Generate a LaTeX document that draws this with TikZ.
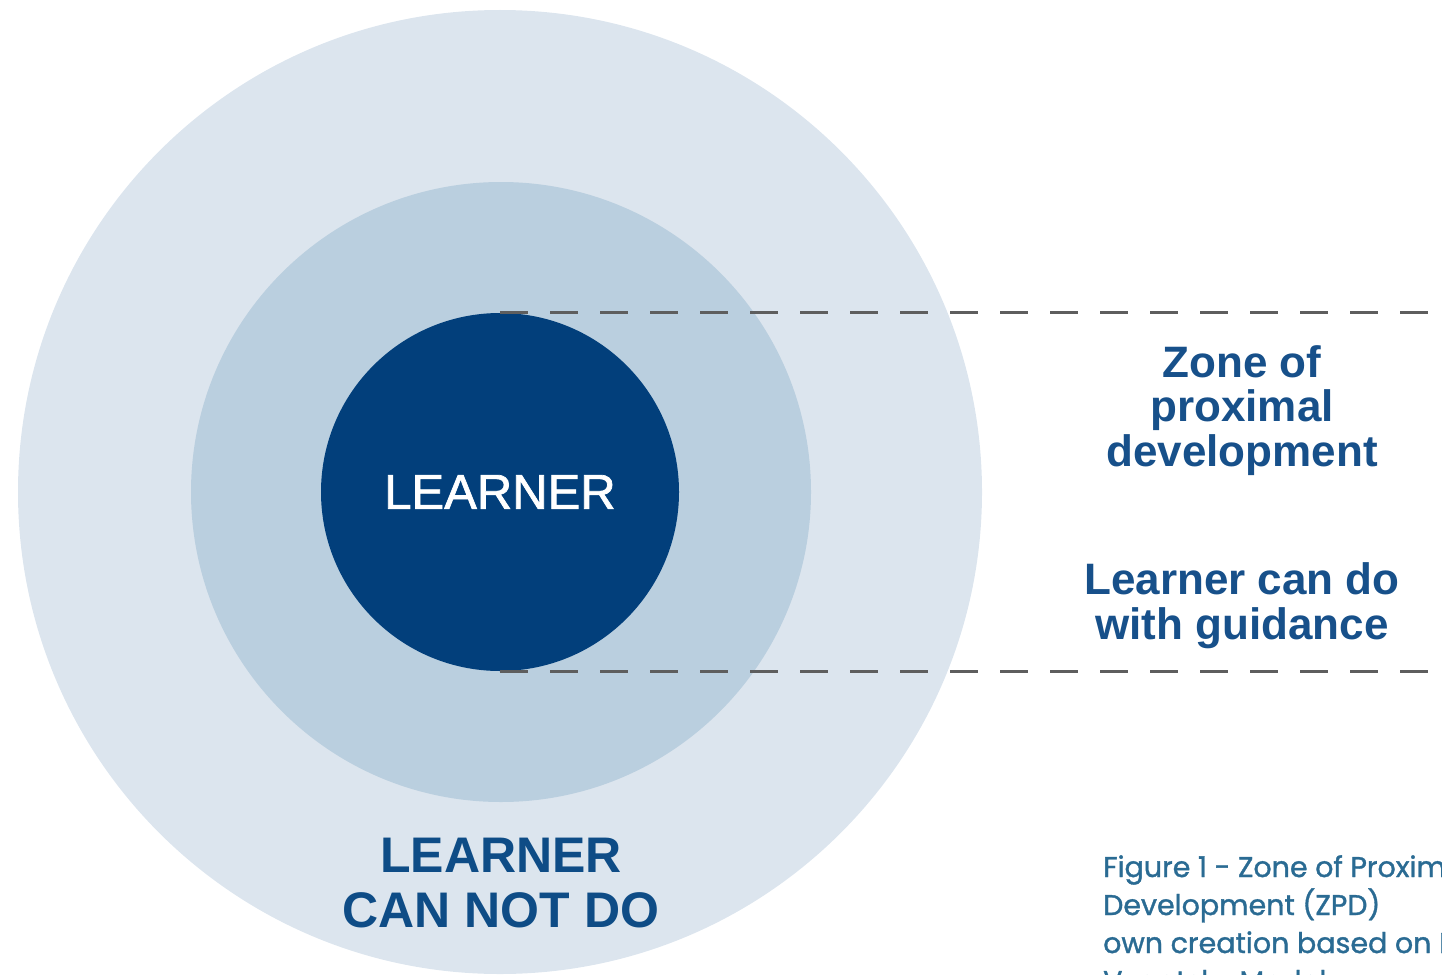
\documentclass[tikz,border=0pt]{standalone}
\usepackage{fontspec}
\setmainfont{Liberation Sans}
\newfontfamily\captionfont[FakeBold=1.2]{Poppins}
\newfontfamily\corefont[FakeBold=1.5]{Liberation Sans}
\definecolor{outerzone}{HTML}{DCE5EE}
\definecolor{middlezone}{HTML}{BACFDF}
\definecolor{corezone}{HTML}{023F7B}
\definecolor{labelblue}{HTML}{0E4C86}
\definecolor{zoneblue}{HTML}{17508A}
\definecolor{captionblue}{HTML}{2A6B93}
\definecolor{dashgray}{HTML}{5E5E5E}
\tikzset{
  ring/.style={circle, draw=none, inner sep=0pt, minimum size=#1},
  guide/.style={draw=dashgray, line width=3pt, dash pattern=on 28pt off 22pt},
  biglabel/.style={font=\bfseries\fontsize{50}{55}\selectfont, text=labelblue, anchor=base, inner sep=0pt},
  zonelabel/.style={font=\bfseries\fontsize{44}{45}\selectfont, text=zoneblue, anchor=base, inner sep=0pt},
  captionline/.style={font=\captionfont\fontsize{28.5}{39}\selectfont, text=captionblue, anchor=base west, inner sep=0pt},
}
\begin{document}
\begin{tikzpicture}[x=1pt, y=-1pt]
  \useasboundingbox (0,0) rectangle (1442,974);
  \clip (0,0) rectangle (1442,974);

  % concentric zones
  \node[ring=964pt, fill=outerzone] (outer) at (500,492) {};
  \node[ring=620pt, fill=middlezone] (middle) at (501,492) {};
  \node[ring=358pt, fill=corezone, text=white,
        font=\corefont\fontsize{49}{55}\selectfont] (inner) at (500,492) {LEARNER};

  % guide lines bounding the zone of proximal development
  \coordinate (topend) at (1442,313);
  \coordinate (botend) at (1442,671);
  \draw[guide] (inner.north) -- (inner.north -| topend);
  \draw[guide] (inner.south) -- (inner.south -| botend);

  % outer zone label
  \node[biglabel] (cannot1) at (501,872) {LEARNER};
  \node[biglabel] (cannot2) at (501,927) {CAN NOT DO};

  % zone labels on the right
  \node[zonelabel] (zpd1) at (1242,377) {Zone of};
  \node[zonelabel] (zpd2) at (1242,421) {proximal};
  \node[zonelabel] (zpd3) at (1242,466) {development};
  \node[zonelabel] (guide1) at (1242,594) {Learner can do};
  \node[zonelabel] (guide2) at (1242,639) {with guidance};

  % figure caption
  \node[captionline] (cap1) at (1103,877) {Figure 1 - Zone of Proximal};
  \node[captionline] (cap2) at (1103,915) {Development (ZPD)};
  \node[captionline] (cap3) at (1103,953) {own creation based on L.};
  \node[captionline] (cap4) at (1103,991) {Vygotsky Model};
\end{tikzpicture}
\end{document}
